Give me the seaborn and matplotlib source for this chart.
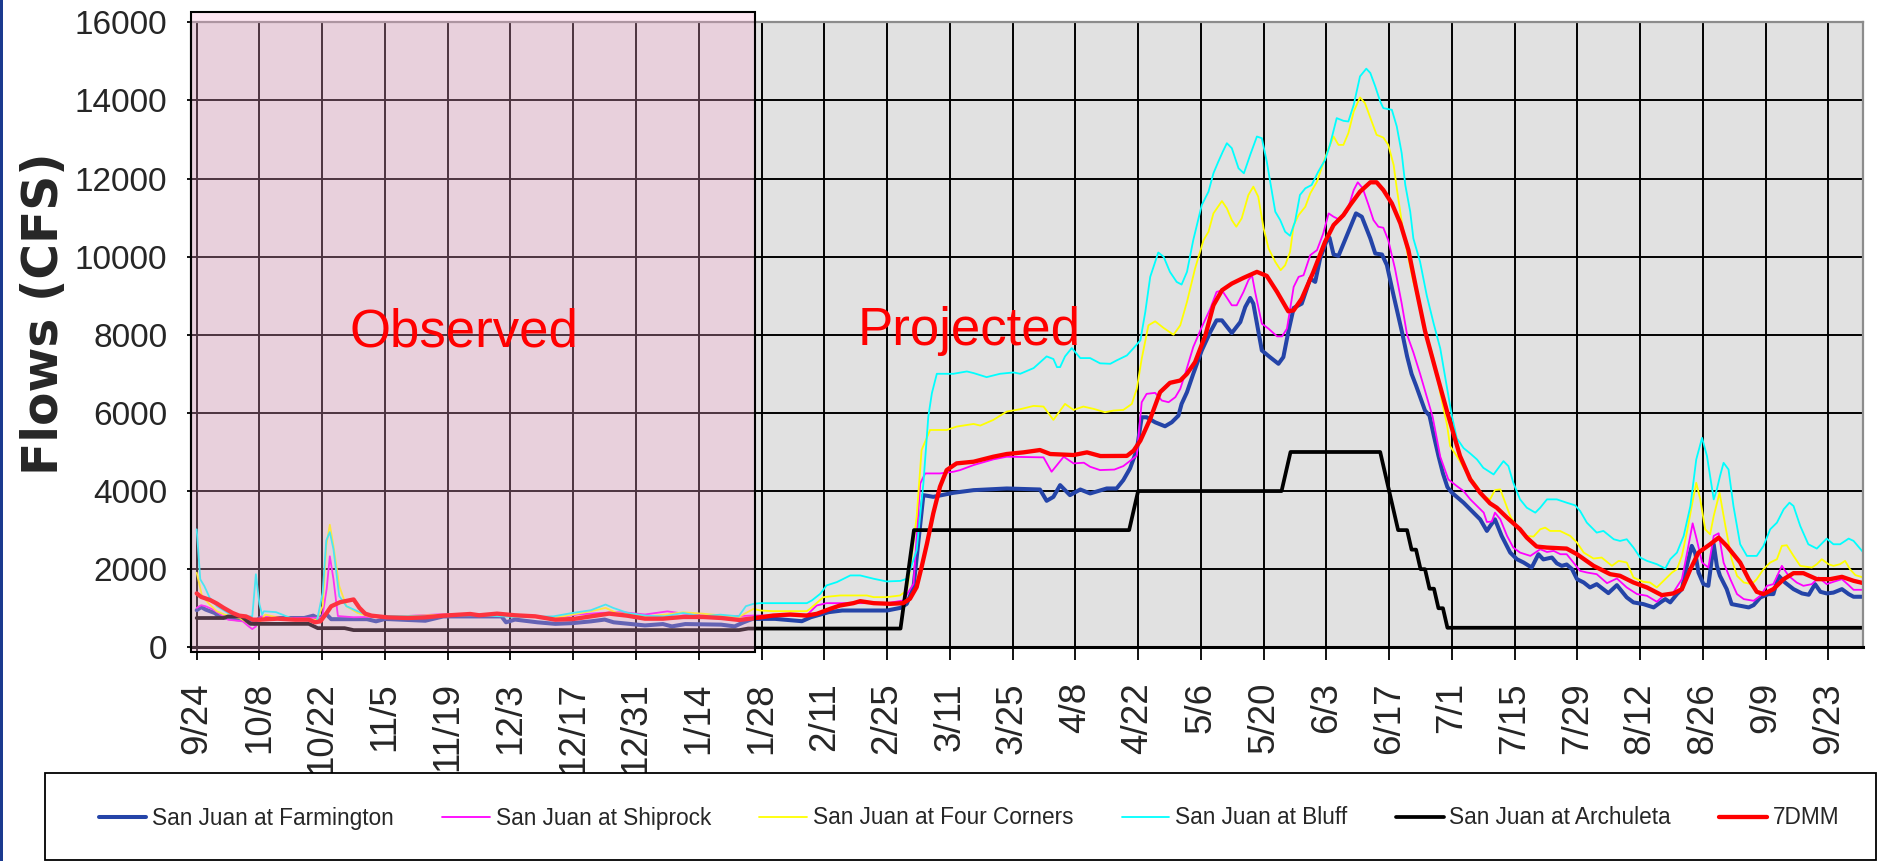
import numpy as np
import pandas as pd
import matplotlib
matplotlib.use("Agg")
import matplotlib.pyplot as plt
import matplotlib.dates as mdates
from matplotlib.patches import Rectangle
import seaborn as sns

# ---------------------------------------------------------------- data
START = pd.Timestamp("2006-09-24")          # first day of the water year shown
OBSERVED_END_DAY = 124.6                    # observed period ends here (days from START)

# (days since START, flow in cfs)
FARMINGTON = [
    (0, 950), (1, 1030), (2, 965), (4, 880), (5, 790), (8, 730), (10, 710), (12, 640),
    (13, 600), (14, 750), (24, 750), (26, 810), (27, 750), (29, 840), (30, 720), (38, 720),
    (40, 665), (42, 725), (51, 680), (55, 790), (68, 790), (69, 640), (71, 710), (76, 640),
    (80, 600), (84, 620), (88, 665), (91, 710), (93, 640), (100, 560), (104, 595), (106, 535),
    (109, 595), (117, 580), (120, 535), (122, 640), (124, 728), (129, 728), (135, 668),
    (137, 770), (141, 900), (144, 942), (154, 942), (157, 1010), (158.4, 1113), (159.9, 1541),
    (162.1, 3895), (164.3, 3852), (168.8, 3955), (173.3, 4023), (180.7, 4066), (188.1, 4040),
    (189.6, 3750), (191.1, 3850), (192.6, 4152), (194.8, 3895), (197.1, 4040), (199.3, 3938),
    (203, 4066), (205.2, 4066), (206.7, 4280), (208.2, 4580), (209.7, 5050), (210.8, 5889),
    (211.9, 5889), (213.8, 5760), (216, 5658), (217.5, 5760), (219, 5932), (219.7, 6231),
    (220.9, 6531), (222.3, 7001), (224.2, 7600), (226.1, 8071), (227.5, 8370), (228.7, 8370),
    (230.9, 8045), (232.8, 8327), (233.9, 8712), (235, 8943), (235.7, 8798), (237.6, 7600),
    (239.4, 7429), (241.3, 7258), (242.4, 7429), (243.5, 8071), (244.7, 8687), (246.5, 8798),
    (248.4, 9440), (249.5, 9354), (250.6, 9953), (252.1, 10424), (252.7, 10484), (253.6, 10056),
    (254.7, 10021), (256.6, 10552), (258.6, 11108), (259.9, 11023), (261.8, 10467),
    (262.9, 10081), (264.4, 10056), (265.5, 9782), (267, 9000), (269, 8000), (270, 7450),
    (271, 7000), (272, 6700), (274, 6060), (275, 5930), (276, 5400), (277, 4900), (278, 4450),
    (279, 4100), (280, 3957), (282.6, 3702), (284.8, 3447), (286.3, 3276), (287.8, 2979),
    (288.5, 3100), (289.6, 3276), (291.1, 2851), (293, 2425), (294.5, 2255), (296, 2170),
    (297.8, 2042), (299.3, 2383), (300.4, 2250), (302.3, 2298), (303.4, 2150), (304.5, 2085),
    (305.6, 2120), (306.8, 2000), (307.9, 1745), (309.4, 1659), (310.8, 1532), (312.3, 1617),
    (314.9, 1387), (316.8, 1591), (319, 1277), (320.5, 1149), (322.7, 1106), (325, 1021),
    (326.5, 1149), (327.6, 1234), (328.7, 1150), (330.2, 1362), (331.3, 1489), (332.4, 2085),
    (333.5, 2596), (334.3, 2400), (335, 1915), (336.1, 1617), (337.2, 1574), (338.4, 2638),
    (339.1, 2085), (339.8, 1830), (341.3, 1489), (342.4, 1106), (344.3, 1064), (346.2, 1021),
    (347.3, 1080), (348.8, 1277), (350.6, 1362), (351.7, 1362), (352.9, 1830), (354.3, 1659),
    (356.2, 1489), (358.1, 1379), (359.6, 1345), (361, 1617), (362.2, 1421), (363.6, 1379),
    (365.1, 1400), (367, 1489), (368.5, 1362), (369.6, 1294), (371.8, 1294),
]

SHIPROCK = [
    (0, 1010), (1, 1078), (2, 1050), (3.7, 965), (5.4, 836), (7, 707), (10.3, 664), (11.6, 534),
    (12.4, 466), (13.2, 534), (14.4, 793), (18, 750), (24.4, 750), (28, 760), (29, 1500),
    (29.7, 2330), (30.5, 1750), (31.5, 800), (35, 770), (45, 790), (55, 850), (65, 840),
    (75, 800), (80, 750), (85, 840), (90, 880), (95, 900), (100, 840), (105, 920), (110, 840),
    (115, 800), (121, 800), (124.2, 813), (136, 813), (138.3, 1070), (140.5, 1130), (154, 1130),
    (157.6, 1198), (159.9, 1626), (161.4, 4194), (162.5, 4451), (165.8, 4451), (168.8, 4494),
    (170.3, 4537), (173.3, 4665), (177.7, 4811), (180.7, 4879), (188.9, 4862), (190.7, 4494),
    (193.4, 4879), (195.6, 4708), (197.9, 4725), (199.3, 4622), (201.5, 4537), (204.7, 4550),
    (206.7, 4639), (208.9, 4836), (209.7, 4905), (210.8, 6274), (211.9, 6488), (213.8, 6514),
    (215.3, 6317), (216.8, 6274), (218.3, 6403), (219.4, 6616), (220.5, 7001), (222.3, 7686),
    (224.2, 8199), (226.1, 8670), (227.5, 9097), (228.7, 9140), (229.8, 8950), (230.9, 8755),
    (232, 8755), (233.5, 9097), (234.6, 9397), (235.4, 9525), (236.1, 9097), (237.6, 8285),
    (239.1, 8156), (241, 7960), (242.1, 7960), (243.2, 8156), (244.7, 9226), (245.8, 9483),
    (246.9, 9525), (248.4, 10039), (249.9, 10167), (251.3, 10595), (252.5, 11108),
    (253.6, 11023), (255.1, 10937), (256.6, 11151), (258.1, 11707), (259, 11904),
    (260.1, 11750), (261.4, 11322), (262.5, 10937), (263.6, 10766), (264.7, 10740),
    (265.8, 10424), (267.3, 9696), (268.8, 8800), (270, 8000), (271.4, 7550), (272.9, 7000),
    (274.4, 6410), (275.7, 5900), (277.4, 4880), (279.2, 4298), (281.1, 4127), (282.6, 4000),
    (284.1, 3787), (285.6, 3617), (287.1, 3447), (287.8, 3208), (288.9, 3220), (289.6, 3447),
    (290.8, 3276), (292.3, 2851), (293.7, 2553), (295.2, 2425), (297.5, 2340), (299.7, 2510),
    (301.2, 2440), (302.7, 2468), (304.2, 2383), (305.6, 2383), (307.1, 2170), (308.6, 1957),
    (310.1, 1915), (312.3, 1872), (314.6, 1642), (316.8, 1762), (319, 1532), (321.3, 1362),
    (323.5, 1319), (325.7, 1166), (327.6, 1362), (329.4, 1404), (331.3, 1745), (332.4, 2383),
    (333.7, 3174), (334.6, 2766), (335.8, 2170), (337.2, 2042), (338.4, 2851), (339.5, 2919),
    (340.6, 2170), (342.1, 1745), (343.6, 1362), (345.1, 1234), (347.3, 1191), (348.8, 1319),
    (350.3, 1574), (351.7, 1617), (353.6, 2085), (355.1, 1830), (356.9, 1659), (358.4, 1574),
    (360.3, 1617), (361.8, 1787), (363.6, 1617), (365.1, 1676), (367, 1745), (368.5, 1591),
    (369.6, 1472), (371.8, 1472),
]

FOUR_CORNERS = [
    (0, 1910), (1.2, 1310), (2.9, 1095), (4.5, 922), (6.2, 836), (9.5, 750), (11.6, 620),
    (13.6, 578), (15.3, 836), (18.6, 750), (21.9, 707), (26.8, 707), (28.1, 1052),
    (28.9, 2603), (29.7, 3138), (30.5, 2603), (31.8, 1569), (33.4, 1052), (35.9, 879),
    (38.4, 793), (46.6, 793), (54.9, 836), (63.1, 836), (71.4, 836), (79.6, 750), (87.9, 922),
    (91.2, 1009), (93.7, 879), (100.3, 793), (104.4, 836), (108.5, 896), (112.7, 862),
    (120.9, 776), (124.2, 984), (125.7, 942), (128.6, 925), (136.1, 925), (136.8, 984),
    (139.8, 1284), (143.5, 1327), (149.5, 1327), (151, 1284), (153.9, 1284), (156.9, 1327),
    (158.4, 1455), (159.1, 1969), (160.6, 3338), (161.7, 5050), (163.6, 5564), (167.3, 5564),
    (169.5, 5650), (173.3, 5718), (174.8, 5676), (177.7, 5821), (180.7, 6035), (183.7, 6095),
    (186.7, 6180), (188.9, 6163), (191.1, 5821), (193.7, 6231), (195.6, 6077), (197.8, 6163),
    (200.1, 6103), (202.6, 6018), (204.5, 6060), (206.7, 6077), (208.6, 6231), (209.7, 6616),
    (210.8, 7386), (212.3, 8242), (213.8, 8345), (215.7, 8174), (217.9, 8002), (219.4, 8242),
    (220.9, 8841), (222.7, 9696), (224.6, 10424), (225.7, 10638), (226.8, 11108),
    (228.7, 11425), (229.8, 11237), (230.9, 10937), (231.9, 10766), (233.1, 10980),
    (234.6, 11579), (235.7, 11793), (236.8, 11536), (238, 10723), (239.1, 10210),
    (240.6, 9868), (241.8, 9654), (242.8, 9782), (243.9, 10124), (244.7, 10809),
    (245.8, 11065), (247.3, 11279), (248.4, 11621), (249.9, 11921), (251.3, 12392),
    (252.5, 12777), (253.6, 13076), (254.7, 12862), (255.8, 12862), (256.9, 13162),
    (258.1, 13718), (259.5, 14077), (260.6, 13932), (262.1, 13461), (263.2, 13119),
    (264.7, 13050), (265.8, 12862), (267, 12349), (267.7, 11750), (268.8, 10894),
    (270, 10124), (271.4, 9354), (272.9, 8700), (274.4, 7950), (275.9, 7400), (277.4, 6500),
    (278.9, 5700), (279.6, 5149), (281.1, 4893), (283.3, 4468), (285.6, 4127), (287, 3872),
    (288.5, 3787), (289.6, 4025), (290.8, 4042), (291.9, 3702), (293, 3361), (294.5, 3064),
    (296.7, 2851), (298.2, 2834), (299.7, 3021), (300.8, 3064), (301.9, 2979), (304.1, 2979),
    (306.4, 2851), (307.9, 2681), (309.4, 2425), (311.6, 2272), (313.4, 2298), (315.7, 2085),
    (317.2, 2213), (319, 2170), (320.5, 1787), (322.7, 1676), (324.2, 1659), (325.7, 1532),
    (327.2, 1702), (329.1, 1915), (330.2, 2000), (331.3, 2340), (332.4, 2936), (333.5, 3617),
    (334.5, 4212), (335.4, 3787), (336.5, 3021), (337.6, 2893), (338.4, 3361), (339.7, 3957),
    (341, 3106), (342.4, 2255), (343.6, 1830), (345.1, 1659), (346.9, 1617), (348, 1745),
    (349.5, 2000), (351, 2170), (352.5, 2255), (353.6, 2596), (354.7, 2613), (356.2, 2340),
    (357.7, 2085), (360.3, 2042), (361.4, 2128), (362.5, 2255), (364, 2128), (365.1, 2085),
    (366.6, 2128), (367.7, 2213), (368.8, 2000), (370, 1847), (371.8, 1787),
]

BLUFF = [
    (0, 3020), (0.8, 1741), (1.7, 1569), (2.9, 1267), (4.5, 1052), (7, 879), (10.3, 793),
    (12.4, 793), (13.2, 1871), (14, 1100), (14.6, 836), (15, 922), (17.7, 900), (19.1, 836),
    (21.9, 707), (26.8, 664), (28.1, 1396), (28.9, 2733), (29.7, 2948), (30.5, 2517),
    (31.8, 1310), (33.4, 1052), (35.9, 922), (38.4, 810), (46.6, 793), (54.9, 810),
    (63.1, 819), (71.4, 776), (79.6, 793), (83.8, 879), (87.9, 948), (91.2, 1095),
    (92.9, 1009), (96.2, 879), (100.3, 810), (104.4, 793), (108.5, 879), (112.7, 793),
    (116.8, 836), (120.9, 793), (122.5, 1052), (124.2, 1113), (125.7, 1130), (136.1, 1130),
    (137.2, 1198), (139.1, 1370), (140.5, 1584), (142.8, 1669), (145.8, 1840), (148, 1840),
    (151, 1755), (153.9, 1686), (157, 1700), (158.4, 1755), (159.1, 1969), (160.6, 2482),
    (162.1, 4194), (163.2, 5906), (164, 6506), (165.1, 7002), (168.8, 7002), (171.8, 7062),
    (173.3, 7020), (176.2, 6916), (179.2, 7002), (182.2, 7036), (183.7, 7002), (186.7, 7148),
    (189.6, 7447), (191.1, 7380), (191.9, 7173), (192.6, 7173), (193.7, 7447), (195.2, 7661),
    (197.1, 7404), (199.3, 7404), (201.5, 7270), (203.8, 7258), (205.2, 7344), (207.5, 7472),
    (209, 7660), (210.5, 7857), (211.6, 8584), (212.7, 9483), (214.5, 10107), (215.7, 9996),
    (217.1, 9611), (218.6, 9354), (219.7, 9286), (220.9, 9611), (222.3, 10424),
    (224.2, 11322), (225.7, 11664), (226.8, 12135), (227.9, 12434), (228.9, 12691),
    (229.8, 12905), (230.9, 12777), (232.4, 12263), (233.6, 12135), (235, 12605),
    (236.5, 13076), (237.6, 13033), (238.7, 12434), (240.6, 11151), (241.7, 10937),
    (242.8, 10638), (243.9, 10535), (245, 10894), (246.1, 11579), (247.3, 11750),
    (248.7, 11835), (250.2, 12178), (251.7, 12477), (252.8, 12862), (254.3, 13547),
    (255.8, 13478), (256.9, 13461), (258.1, 13889), (259.5, 14616), (260.9, 14813),
    (261.8, 14702), (262.9, 14359), (264, 13974), (264.7, 13803), (266.6, 13760),
    (267.7, 13333), (268.8, 12648), (269.6, 11835), (270.7, 11151), (271.4, 10467),
    (272.9, 9868), (274.4, 9000), (275.9, 8300), (277.4, 7650), (278.9, 6650), (280, 5915),
    (281.1, 5350), (282.6, 5100), (284.1, 4960), (285.6, 4808), (287, 4595), (289.3, 4425),
    (290.4, 4595), (291.5, 4766), (292.6, 4638), (293.7, 4212), (295.2, 3787), (296.7, 3574),
    (298.6, 3447), (299.7, 3574), (301.2, 3787), (303.4, 3787), (305.6, 3702), (307.5, 3634),
    (308.6, 3489), (310.1, 3191), (312.3, 2936), (313.8, 2979), (316.1, 2766), (317.5, 2723),
    (319, 2766), (320.5, 2553), (322, 2298), (323.5, 2213), (325.7, 2128), (327.6, 2017),
    (328.7, 2255), (330.2, 2425), (331.7, 2851), (333.2, 3617), (334.5, 4808), (335.8, 5361),
    (336.9, 4893), (338.4, 3787), (339.1, 4042), (339.8, 4383), (340.6, 4723), (341.7, 4553),
    (342.8, 3617), (344.3, 2638), (345.8, 2340), (348, 2340), (349.5, 2596), (351, 3021),
    (352.5, 3191), (354, 3532), (355.3, 3702), (356.2, 3617), (357.7, 3106), (359.5, 2638),
    (361.4, 2527), (363.6, 2783), (365.1, 2638), (366.6, 2638), (368.5, 2783), (369.6, 2723),
    (371.8, 2425),
]

ARCHULETA = [
    (0, 750), (6, 750), (7, 790), (10, 790), (12, 600), (25, 600), (27, 490), (33, 490),
    (35, 440), (121, 440), (123, 480), (157, 480), (160, 3000), (208, 3000), (210, 4000),
    (242, 4000), (244, 5000), (264, 5000), (266, 4000), (268, 3000), (270, 3000), (271, 2500),
    (272, 2500), (273, 2000), (274, 2000), (275, 1500), (276, 1500), (277, 1000), (278, 1000),
    (279, 500), (372, 500),
]

SEVEN_DMM = [
    (0, 1380), (1, 1290), (3, 1210), (4.5, 1120), (6, 1010), (8, 880), (9.5, 810), (11, 790),
    (12.5, 707), (14, 707), (18, 733), (22, 707), (25, 707), (26.4, 640), (27.6, 665),
    (29, 880), (30, 1050), (32, 1155), (34, 1200), (35, 1225), (36.3, 1010), (37.6, 860),
    (39, 810), (42.5, 767), (47, 750), (51, 767), (55, 810), (61, 853), (63, 820), (67, 862),
    (71, 820), (75.5, 793), (80, 707), (84, 724), (88, 793), (92, 862), (96, 810), (100, 733),
    (104, 733), (108.5, 776), (113, 776), (117, 750), (121, 700), (124, 740), (128.6, 813),
    (132.4, 839), (136, 813), (138.3, 856), (141.3, 984), (143.5, 1070), (146.5, 1130),
    (148, 1181), (151, 1130), (154.7, 1113), (157.6, 1130), (159.1, 1241), (160.6, 1541),
    (161.7, 2054), (162.9, 2654), (164.3, 3424), (165.8, 4109), (167.3, 4537), (169.5, 4708),
    (173.3, 4751), (177.7, 4879), (180.7, 4948), (184.4, 4990), (188.1, 5050), (190.4, 4948),
    (195.6, 4922), (198.6, 4990), (201.6, 4896), (207.5, 4900), (209, 5034), (210.5, 5290),
    (212.7, 5846), (214.9, 6531), (217.1, 6770), (219.4, 6830), (220.9, 7001), (222.7, 7301),
    (225, 7985), (226.8, 8755), (228.7, 9140), (230.9, 9311), (233.5, 9457), (236.5, 9611),
    (238.7, 9508), (241, 9097), (243.5, 8601), (244.7, 8626), (246.5, 8926), (249.1, 9611),
    (251.7, 10381), (253.6, 10809), (255.8, 11065), (257.3, 11322), (259.5, 11664),
    (261.8, 11904), (263.2, 11904), (264.7, 11707), (266.6, 11365), (268.5, 10852),
    (270.3, 10167), (272, 9200), (274, 8100), (276.6, 7000), (279, 6000), (281.8, 4900),
    (284.1, 4298), (286.3, 3957), (288.5, 3685), (290, 3574), (292.3, 3319), (295.2, 3021),
    (296.7, 2808), (298.9, 2579), (301.2, 2553), (305.6, 2527), (307.9, 2383), (311.6, 2085),
    (315.3, 1872), (317.5, 1830), (320.5, 1659), (323.5, 1532), (326.8, 1336), (329.4, 1379),
    (331.3, 1489), (333.2, 2000), (335, 2425), (337.6, 2638), (339.5, 2808), (341.3, 2596),
    (344.3, 2170), (346.2, 1745), (348, 1421), (349.5, 1362), (351.7, 1489), (354, 1745),
    (356.2, 1898), (358.4, 1898), (361.4, 1745), (364.4, 1745), (367, 1804), (369.6, 1702),
    (371.8, 1642),
]

STATIONS = [
    "San Juan at Farmington",
    "San Juan at Shiprock",
    "San Juan at Four Corners",
    "San Juan at Bluff",
    "San Juan at Archuleta",
    "7DMM",
]
SERIES = [FARMINGTON, SHIPROCK, FOUR_CORNERS, BLUFF, ARCHULETA, SEVEN_DMM]
COLORS = ["#2444A8", "#FF00FF", "#FFFF00", "#00FFFF", "#000000", "#FF0000"]
WIDTHS = [2.9, 1.3, 1.3, 1.3, 2.7, 3.1]

# ---------------------------------------------------------------- figure
W, H = 1878, 861
sns.set_style("white")
plt.rcParams["font.family"] = ["Liberation Sans", "DejaVu Sans"]

fig = plt.figure(figsize=(W / 100, H / 100), dpi=100)
fig.patch.set_facecolor("white")

ax_left, ax_right, ax_top, ax_bottom = 191, 1863, 22.3, 647.3
ax = fig.add_axes([ax_left / W, 1 - ax_bottom / H,
                   (ax_right - ax_left) / W, (ax_bottom - ax_top) / H])
ax.set_facecolor("#E1E1E1")


def to_dates(days):
    return START + pd.to_timedelta(np.asarray(days, dtype=float), unit="D")


for name, pts, color, lw in zip(STATIONS, SERIES, COLORS, WIDTHS):
    days, cfs = zip(*pts)
    frame = pd.DataFrame({"date": to_dates(days), "cfs": cfs})
    sns.lineplot(data=frame, x="date", y="cfs", ax=ax, color=color, linewidth=lw,
                 label=name, estimator=None, sort=False)

handles, labels = ax.get_legend_handles_labels()
if ax.get_legend() is not None:
    ax.get_legend().remove()

# axes limits, ticks and grid
tick_dates = pd.date_range(START, periods=27, freq="14D")
ax.set_xticks(mdates.date2num(tick_dates.to_pydatetime()))
ax.xaxis.set_major_formatter(mdates.DateFormatter("%-m/%-d"))
ax.set_xlim(mdates.date2num(START - pd.Timedelta(days=1.27)),
            mdates.date2num(START + pd.Timedelta(days=371.7)))
ax.set_ylim(0, 16000)
ax.set_yticks(np.arange(0, 16001, 2000))
ax.set_xlabel("")
ax.set_ylabel("")

ax.grid(True, color="black", linewidth=1.4)
ax.set_axisbelow(True)

ax.tick_params(axis="x", direction="out", length=9, width=1.3, color="black",
               pad=16, labelsize=26.5, labelrotation=90, bottom=True)
ax.tick_params(axis="y", direction="out", length=3, width=1.3, color="black",
               pad=14, labelsize=24, left=True)

for side in ("top", "right"):
    ax.spines[side].set_color("#8C8C8C")
    ax.spines[side].set_linewidth(1.6)
ax.spines["bottom"].set_color("black")
ax.spines["bottom"].set_linewidth(2.2)
ax.spines["left"].set_color("black")
ax.spines["left"].set_linewidth(1.5)

# translucent shading over the observed period (lines and grid show through it)
x_obs_end = ax_left + (OBSERVED_END_DAY + 1.27) * (ax_right - ax_left) / (371.7 + 1.27)
fig.patches.append(Rectangle((ax_left / W, 1 - 652 / H), (x_obs_end - ax_left) / W,
                             (652 - 12) / H, transform=fig.transFigure,
                             facecolor=(250 / 255, 171 / 255, 211 / 255, 0.3),
                             edgecolor="black", linewidth=1.5, zorder=1))

# period annotations, placed in data coordinates but drawn above the shading
fig.text(mdates.date2num(START + pd.Timedelta(days=34.1)), 7700, "Observed",
         transform=ax.transData, color="#FF0000", fontsize=38,
         ha="left", va="baseline", zorder=3)
fig.text(mdates.date2num(START + pd.Timedelta(days=147.5)), 7740, "Projected",
         transform=ax.transData, color="#FF0000", fontsize=38,
         ha="left", va="baseline", zorder=3)

# dark edge along the left border of the slide
fig.patches.append(Rectangle((0, 0), 3 / W, 1, transform=fig.transFigure,
                             facecolor="#1B3A8F", edgecolor="none", zorder=1))

# y-axis title
fig.text(44 / W, 1 - 314 / H, "Flows (CFS)", rotation=90, ha="center", va="center",
         fontsize=35, fontweight="bold", family="DejaVu Sans")

# legend: white framed box along the bottom, entries centred inside it
fig.patches.append(Rectangle((45 / W, 1 - 860 / H), (1876 - 45) / W, (860 - 773) / H,
                             transform=fig.transFigure, facecolor="white",
                             edgecolor="black", linewidth=1.3, zorder=4))
fig.legend(handles, labels, loc="center", bbox_to_anchor=(969 / W, 1 - 818 / H),
           ncol=6, fontsize=16.3, handlelength=2.1, handletextpad=0.25,
           columnspacing=2.15, borderpad=0, borderaxespad=0, frameon=False)

fig.savefig("out.png", dpi=100)
